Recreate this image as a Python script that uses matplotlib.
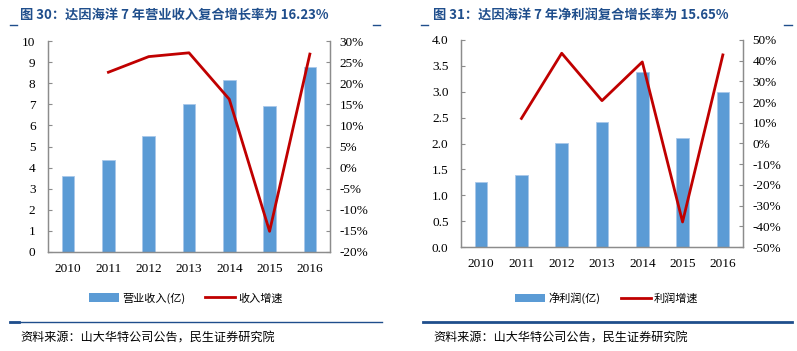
import numpy as np
import matplotlib.pyplot as plt
from matplotlib.patches import Patch
from matplotlib.lines import Line2D

plt.rcParams['font.family'] = ['Liberation Serif', 'Noto Sans CJK SC']

years = ['2010', '2011', '2012', '2013', '2014', '2015', '2016']

# left chart: revenue (100m yuan) and growth (%)
revenue = [3.58, 4.37, 5.50, 7.02, 8.15, 6.90, 8.78]
rev_growth = [None, 22.6, 26.3, 27.2, 16.2, -15.1, 26.9]

# right chart: net profit (100m yuan) and growth (%)
profit = [1.25, 1.40, 2.01, 2.42, 3.38, 2.10, 2.99]
prof_growth = [None, 12.1, 43.6, 20.7, 39.4, -37.9, 42.8]

BAR = '#5B9BD5'
RED = '#C00000'
GRAY = '#8C8C8C'
NAVY = '#1F4E8C'
CJK = ['Noto Sans CJK SC', 'DejaVu Sans']

fig = plt.figure(figsize=(7.97, 3.51), dpi=100)


def panel(rect, bars, growth, ylim, yticks, yfmt, rlim, rticks):
    ax = fig.add_axes(rect)
    x = np.arange(len(years))
    ax.bar(x, bars, width=0.31, color=BAR, edgecolor='#A9C8EA', linewidth=0.6, zorder=2)
    ax.set_xlim(-0.5, len(years) - 0.5)
    ax.set_ylim(*ylim)
    ax.set_yticks(yticks)
    ax.set_yticklabels([yfmt.format(v) for v in yticks])
    ax.set_xticks(x)
    ax.set_xticklabels(years)
    ax.spines['top'].set_visible(False)
    for s in ['left', 'bottom', 'right']:
        ax.spines[s].set_color(GRAY)
        ax.spines[s].set_linewidth(0.9)
    ax.tick_params(axis='y', direction='in', length=3, color=GRAY, pad=9, labelsize=9.5)
    ax.tick_params(axis='x', length=0, pad=8, labelsize=9.5)

    ax2 = ax.twinx()
    gx = [i for i, g in enumerate(growth) if g is not None]
    gy = [g for g in growth if g is not None]
    ax2.plot(gx, gy, color=RED, linewidth=2, zorder=3)
    ax2.set_ylim(*rlim)
    ax2.set_yticks(rticks)
    ax2.set_yticklabels(['{:d}%'.format(v) for v in rticks])
    ax2.spines['top'].set_visible(False)
    for s in ['left', 'bottom', 'right']:
        ax2.spines[s].set_color(GRAY)
        ax2.spines[s].set_linewidth(0.9)
    ax2.tick_params(axis='y', direction='in', length=3, color=GRAY, pad=7, labelsize=9.5)
    return ax


panel([48 / 797, 1 - 252 / 351, 282 / 797, 211 / 351], revenue, rev_growth,
      (0, 10), list(range(0, 11)), '{:d}', (-20, 30), list(range(-20, 31, 5)))
panel([461 / 797, 1 - 247 / 351, 282 / 797, 207 / 351], profit, prof_growth,
      (0, 4), [i * 0.5 for i in range(9)], '{:.1f}', (-50, 50), list(range(-50, 51, 10)))

# titles
fig.text(20 / 797, 1 - 15 / 351, '图 30：达因海洋 7 年营业收入复合增长率为 16.23%',
         family=CJK, weight='bold', fontsize=9.5, color=NAVY, va='center')
fig.text(433 / 797, 1 - 15 / 351, '图 31：达因海洋 7 年净利润复合增长率为 15.65%',
         family=CJK, weight='bold', fontsize=9.5, color=NAVY, va='center')

# small marks under titles
for x0, x1 in [(10, 17), (373, 380), (421, 428), (784, 792)]:
    fig.add_artist(Line2D([x0 / 797, x1 / 797], [1 - 25 / 351] * 2, color=NAVY, lw=1))

# legends
for cx, lab1, lab2 in [(186, '营业收入(亿)', '收入增速'), (607, '净利润(亿)', '利润增速')]:
    handles = [Patch(facecolor=BAR, edgecolor='none'), Line2D([], [], color=RED, lw=2)]
    fig.legend(handles, [lab1, lab2], loc='center', bbox_to_anchor=(cx / 797, 1 - 298 / 351),
               ncol=2, frameon=False, prop={'family': CJK, 'size': 8},
               handlelength=2.7, handleheight=0.8, columnspacing=1.8, handletextpad=0.3)

# bottom rules
fig.add_artist(Line2D([10 / 797, 382 / 797], [1 - 322 / 351] * 2, color=NAVY, lw=1))
fig.add_artist(Line2D([10 / 797, 19 / 797], [1 - 322 / 351] * 2, color=NAVY, lw=2))
fig.add_artist(Line2D([423 / 797, 792 / 797], [1 - 322 / 351] * 2, color=NAVY, lw=2))

# sources
fig.text(20 / 797, 1 - 338 / 351, '资料来源：山大华特公司公告，民生证券研究院',
         family=CJK, fontsize=8.7, va='center')
fig.text(433 / 797, 1 - 338 / 351, '资料来源：山大华特公司公告，民生证券研究院',
         family=CJK, fontsize=8.7, va='center')

fig.savefig('out.png', dpi=100)
